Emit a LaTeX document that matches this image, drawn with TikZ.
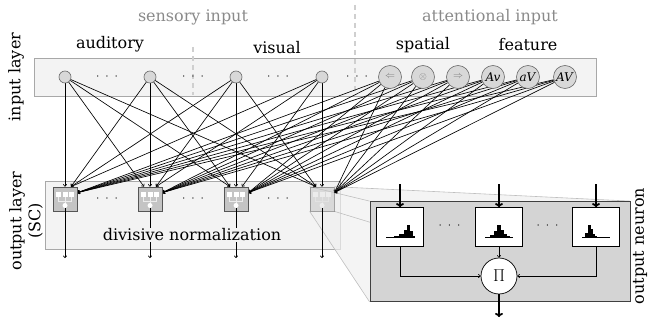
\documentclass[tikz,border=0pt]{standalone}
\usepackage{fontspec}
\setmainfont{DejaVu Serif}
\usetikzlibrary{arrows.meta,calc}
\definecolor{panel}{HTML}{F3F3F3}
\definecolor{paneledge}{HTML}{A8A8A8}
\definecolor{cellfill}{HTML}{D8D8D8}
\definecolor{celledge}{HTML}{6A6A6A}
\definecolor{unitfill}{HTML}{C4C4C4}
\definecolor{unitedge}{HTML}{555555}
\definecolor{neuronbg}{HTML}{D4D4D4}
\definecolor{softtext}{HTML}{8A8A8A}
\definecolor{symgray}{HTML}{7A7A7A}
\definecolor{divider}{HTML}{CFCFCF}
\definecolor{treeline}{HTML}{ECECEC}
\pgfdeclarelayer{back}
\pgfdeclarelayer{wires}
\pgfsetlayers{back,wires,main}
\tikzset{
  panelbox/.style={draw=paneledge, fill=panel, line width=0.8pt, inner sep=0pt},
  sens/.style={circle, draw=celledge, fill=cellfill, minimum size=12pt, inner sep=0pt, line width=0.6pt},
  attn/.style={circle, draw=celledge, fill=cellfill, minimum size=23pt, inner sep=0pt, line width=0.6pt, font=\fontsize{12}{12}\selectfont},
  unitbox/.style={draw=unitedge, fill=unitfill, minimum size=24pt, inner sep=0pt, line width=0.7pt},
  core/.style={circle, fill=white, minimum size=5pt, inner sep=0pt},
  wire/.style={line width=0.65pt, -{To[length=2.5pt,width=4pt]}},
  bigarrow/.style={line width=1.8pt, -{To[length=4pt,width=8pt]}},
  histbox/.style={draw=black, fill=white, minimum width=47pt, minimum height=39pt, inner sep=0pt, line width=0.7pt},
  ellip/.style={font=\fontsize{12}{12}\selectfont},
  heading/.style={font=\fontsize{16}{16}\selectfont},
  sidelabel/.style={font=\fontsize{16}{19}\selectfont, rotate=90, align=center},
  symlabel/.style={font=\fontsize{10}{10}\selectfont, text=symgray},
}
% one unit of the output layer: name, x position, opacity
\newcommand{\scunit}[3]{%
  \node[unitbox, opacity=#3] (#1) at (#2,199) {};
  \begin{scope}[shift={(#2,199)}, opacity=#3]
    \draw[treeline, line width=0.8pt] (-6.5,-2) -- (-6.5,2) -- (6.5,2) -- (6.5,-2) (0,-2) -- (0,5);
    \foreach \dx in {-6.5,0,6.5} \fill[white] (\dx-2.5,-7) rectangle (\dx+2.5,-2);
  \end{scope}
  \node[core, opacity=#3] (#1c) at (#2,205.5) {};
}
\begin{document}
\begin{tikzpicture}[x=1pt, y=-1pt]
\useasboundingbox (0,0) rectangle (649,321);

% ---------- panels ----------
\begin{pgfonlayer}{back}
  \node[panelbox, minimum width=562pt, minimum height=38pt] (inpanel) at (315,77) {};
  \node[panelbox, minimum width=295pt, minimum height=68pt] (outpanel) at (192.5,215) {};
  \draw[divider, line width=1.3pt, dash pattern=on 5pt off 4pt] (193,47) -- (193,95);
  \draw[divider, line width=1.3pt, dash pattern=on 5pt off 4pt] (355,5) -- (355,95);
\end{pgfonlayer}

% ---------- input layer ----------
\foreach \i/\x in {1/65, 2/150, 3/236, 4/322}
  \node[sens] (s\i) at (\x,77) {};
\node[attn, symlabel] (a1) at (390,77) {$\Leftarrow$};
\node[attn, symlabel] (a2) at (423,77) {$\otimes$};
\node[attn, symlabel] (a3) at (458,77) {$\Rightarrow$};
\node[attn] (a4) at (493,77) {\textit{Av}};
\node[attn] (a5) at (528,77) {\textit{aV}};
\node[attn] (a6) at (565,77) {\textit{AV}};
\foreach \n/\x in {1/107, 2/193, 3/278, 4/357}
  \node[ellip] (indots\n) at (\x,77) {$\cdot\;\cdot\;\cdot$};

% ---------- output layer ----------
\scunit{u1}{65}{1}
\scunit{u2}{150}{1}
\scunit{u3}{236}{1}
\scunit{u4}{322}{0.5}
\foreach \n/\x in {1/107, 2/193, 3/278}
  \node[ellip] (outdots\n) at (\x,199) {$\cdot\;\cdot\;\cdot$};

% ---------- feed-forward connections ----------
\begin{pgfonlayer}{wires}
  \foreach \i in {1,...,4}
    \foreach \j in {1,...,4} {
      \pgfmathsetmacro\off{(\i<\j) ? -6 : ((\i>\j) ? 6 : 0)}
      \draw[wire] (s\i) -- ($(u\j.north)+(\off,0)$);
    }
  \foreach \k in {1,...,6}
    \foreach \j in {1,...,4}
      \draw[wire] (a\k) -- ($(u\j.north east)+(0,6)$);
\end{pgfonlayer}

% unit outputs
\foreach \j/\x in {1/65, 2/150, 3/236, 4/322} {
  \coordinate (o\j) at (\x,258);
  \draw[wire] (u\j c) -- (o\j);
}
\node[heading, fill=panel, inner sep=1pt] (divnorm) at (192,235) {divisive normalization};

% ---------- magnified output neuron ----------
\node[draw=black!75, fill=neuronbg, minimum width=260pt, minimum height=100pt, line width=0.8pt, inner sep=0pt] (neuron) at (500,251.5) {};
\begin{pgfonlayer}{back}
  \fill[black!6, opacity=0.7] (u4.north west) -- (u4.north east) -- (neuron.north east)
    -- (neuron.south east) -- (neuron.south west) -- (u4.south west) -- cycle;
  \draw[black!25, line width=0.6pt] (u4.north east) -- (neuron.north east)
    (u4.south west) -- (neuron.south west)
    (u4.north west) -- (neuron.north west)
    (u4.south east) -- (neuron.south east);
\end{pgfonlayer}

\node[histbox] (h1) at (400,227) {};
\node[histbox] (h2) at (499,227) {};
\node[histbox] (h3) at (596,227) {};
\node[ellip] (ndots1) at (449.5,226) {$\cdot\;\cdot\;\cdot$};
\node[ellip] (ndots2) at (547.5,226) {$\cdot\;\cdot\;\cdot$};

% tuning histograms
\begin{scope}[shift={(-1,0)}]
\foreach \a/\b/\h in {387/395/0.8, 395/400/2, 400/405/4.5, 405/408/8, 408/411/13, 411/414/7, 414/415.5/2}
  \fill (\a,238) rectangle (\b,238-\h);
\end{scope}
\begin{scope}[shift={(-2,0)}]
\foreach \a/\b/\h in {487/492/0.8, 492/496/3, 496/498.5/7, 498.5/503/13, 503/506/8, 506/509/4, 509/512/2, 512/515/0.8}
  \fill (\a,238) rectangle (\b,238-\h);
\end{scope}
\begin{scope}[shift={(-5,0)}]
\foreach \a/\b/\h in {587/590/1, 590/593/5, 593/595.5/13, 595.5/597.5/9, 597.5/600/4, 600/602/2, 602/615/0.8}
  \fill (\a,238) rectangle (\b,238-\h);
\end{scope}

\node[circle, draw=black, fill=white, minimum size=36pt, inner sep=0pt, line width=0.7pt,
      font=\fontsize{16}{16}\selectfont] (prod) at (499,276) {$\Pi$};

\foreach \n/\x in {1/400, 2/499, 3/596} {
  \coordinate (feed\n) at (\x,184);
  \draw[bigarrow] (feed\n) -- (h\n.north);
}
\draw[wire] (h1.south) |- (prod.west);
\draw[wire] (h2.south) -- (prod.north);
\draw[wire] (h3.south) |- (prod.east);
\coordinate (result) at (499,317);
\draw[bigarrow] (prod.south) -- (result);

% ---------- labels ----------
\node[heading, text=softtext] (sensory) at (193,17) {sensory input};
\node[heading, text=softtext] (attentional) at (490,17) {attentional input};
\node[heading] (auditory) at (110,44) {auditory};
\node[heading] (visual) at (277,48) {visual};
\node[heading] (spatial) at (423,45) {spatial};
\node[heading] (feature) at (528,45) {feature};
\node[sidelabel] (inlabel) at (16,77) {input layer};
\node[sidelabel] (outlabel) at (26,221) {output layer\\(SC)};
\node[sidelabel] (neuronlabel) at (640,246) {output neuron};
\end{tikzpicture}
\end{document}
